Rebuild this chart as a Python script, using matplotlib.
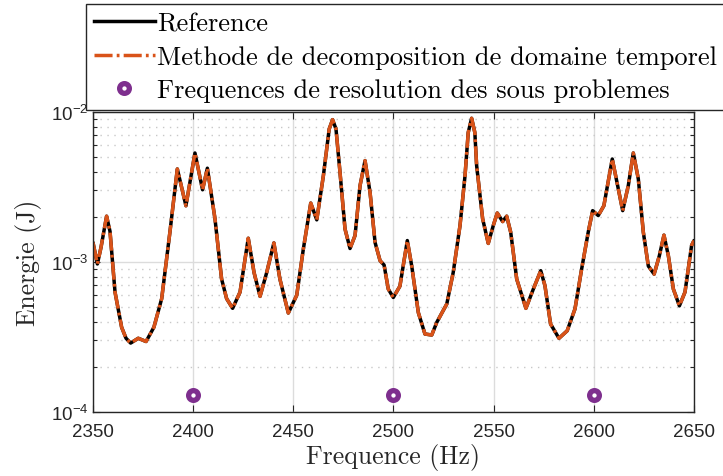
import matplotlib
matplotlib.use("Agg")
import matplotlib.pyplot as plt
from matplotlib.ticker import LogLocator, FixedLocator, NullFormatter
from matplotlib.lines import Line2D

# Frequency sweep (Hz) and energy (J)
frequence = [
    2350.0, 2352.2, 2354.0, 2356.8, 2358.5, 2361.0, 2364.3, 2366.5, 2368.8, 2372.6,
    2376.5, 2380.4, 2384.3, 2388.4, 2392.1, 2396.4, 2400.9, 2404.7, 2407.1, 2410.9,
    2414.2, 2416.7, 2419.7, 2423.4, 2427.5, 2430.4, 2433.4, 2436.7, 2440.3, 2443.3,
    2447.5, 2451.7, 2455.0, 2458.7, 2461.7, 2465.0, 2467.9, 2469.6, 2471.3, 2473.3,
    2475.8, 2478.3, 2480.8, 2483.3, 2485.8, 2488.3, 2490.8, 2493.3, 2495.3, 2497.4,
    2499.9, 2503.2, 2506.9, 2509.1, 2512.4, 2515.7, 2519.1, 2521.6, 2526.6, 2529.8,
    2533.2, 2535.7, 2537.3, 2539.0, 2540.6, 2541.5, 2544.5, 2547.3, 2549.8, 2551.8,
    2554.5, 2556.5, 2558.5, 2561.5, 2566.1, 2569.8, 2573.5, 2575.6, 2578.4, 2582.6,
    2586.7, 2590.6, 2593.9, 2597.2, 2599.4, 2602.2, 2605.0, 2609.2, 2614.4, 2617.2,
    2619.7, 2622.2, 2624.7, 2627.2, 2630.1, 2632.7, 2635.0, 2637.2, 2639.7, 2642.7,
    2645.5, 2648.8, 2650.0,
]
energie_reference = [
    1.35e-3, 0.97e-3, 1.25e-3, 2.02e-3, 1.60e-3, 6.3e-4, 3.67e-4, 3.10e-4, 2.88e-4, 3.10e-4,
    2.95e-4, 3.67e-4, 5.7e-4, 1.58e-3, 4.17e-3, 2.37e-3, 5.33e-3, 3.03e-3, 4.22e-3, 1.94e-3,
    7.7e-4, 5.7e-4, 4.91e-4, 6.3e-4, 1.44e-3, 8.5e-4, 5.9e-4, 8.5e-4, 1.34e-3, 7.7e-4,
    4.57e-4, 6.0e-4, 1.22e-3, 2.47e-3, 1.91e-3, 3.76e-3, 7.7e-3, 8.89e-3, 7.7e-3, 3.96e-3,
    1.66e-3, 1.23e-3, 1.50e-3, 3.23e-3, 4.74e-3, 2.91e-3, 1.35e-3, 1.02e-3, 9.55e-4, 6.6e-4,
    5.8e-4, 6.9e-4, 1.39e-3, 9.4e-4, 4.6e-4, 3.31e-4, 3.26e-4, 3.96e-4, 5.25e-4, 8.5e-4,
    1.75e-3, 3.76e-3, 7.3e-3, 9.08e-3, 7.3e-3, 4.39e-3, 1.94e-3, 1.33e-3, 1.75e-3, 2.12e-3,
    1.86e-3, 2.02e-3, 1.58e-3, 7.7e-4, 4.91e-4, 6.6e-4, 8.75e-4, 6.95e-4, 3.86e-4, 3.10e-4,
    3.48e-4, 4.87e-4, 8.96e-4, 1.58e-3, 2.20e-3, 2.04e-3, 2.37e-3, 4.86e-3, 2.20e-3, 3.23e-3,
    5.33e-3, 3.58e-3, 1.58e-3, 9.4e-4, 8.3e-4, 1.10e-3, 1.51e-3, 1.10e-3, 6.6e-4, 5.1e-4,
    6.3e-4, 1.29e-3, 1.39e-3,
]
# Time-domain decomposition result (coincides with the reference)
energie_decomposition = list(energie_reference)

# Sub-problem resolution frequencies
freq_sous_problemes = [2400, 2500, 2600]
energie_marqueurs = [1.3e-4, 1.3e-4, 1.3e-4]

xticks = [2350, 2400, 2450, 2500, 2550, 2600, 2650]

labels_legende = [
    "Reference",
    "Methode de decomposition de domaine temporel",
    "Frequences de resolution des sous problemes",
]

plt.rcParams["font.family"] = ["Liberation Sans", "DejaVu Sans"]
plt.rcParams["axes.unicode_minus"] = False
plt.rcParams["lines.scale_dashes"] = False

SERIF = "cmr10"
DARK = "#262626"
ORANGE = "#D95319"
PURPLE = "#7E2F8E"
LW = 2.5
DASHDOT = (0, (13, 3, 2, 3))

fig = plt.figure(figsize=(7.23, 4.77), dpi=100)
ax = fig.add_axes([0.1286, 0.1342, 0.9599 - 0.1286, 0.7631 - 0.1342])

ax.plot(frequence, energie_reference, color="black", lw=LW,
        solid_joinstyle="round", solid_capstyle="round")
ax.plot(frequence, energie_decomposition, color=ORANGE, lw=LW, linestyle=DASHDOT,
        dash_joinstyle="round")
ax.plot(freq_sous_problemes, energie_marqueurs, linestyle="none", marker="o",
        markersize=7, markeredgewidth=3.8, markerfacecolor="white",
        markeredgecolor=PURPLE)

ax.set_yscale("log")
ax.set_xlim(2350, 2650)
ax.set_ylim(1e-4, 1e-2)
ax.xaxis.set_major_locator(FixedLocator(xticks))
ax.yaxis.set_major_locator(LogLocator(base=10, numticks=10))
ax.yaxis.set_minor_locator(LogLocator(base=10, subs=range(2, 10), numticks=20))
ax.yaxis.set_minor_formatter(NullFormatter())

ax.grid(True, which="major", axis="both", color="#dcdcdc", lw=1.0, ls="-")
ax.grid(True, which="minor", axis="y", color="#c8c8c8", lw=1.0, ls=(0, (1, 4)))
ax.set_axisbelow(True)

ax.tick_params(which="both", direction="in", top=True, right=True, colors=DARK,
               labelsize=13.5, width=0.8)
ax.tick_params(which="major", length=5)
ax.tick_params(which="minor", length=3)
ax.tick_params(axis="x", pad=8)
for s in ax.spines.values():
    s.set_color(DARK)
    s.set_linewidth(1.0)

ax.set_xlabel("Frequence (Hz)", fontfamily=SERIF, fontsize=18.5, color=DARK, labelpad=2)
ax.set_ylabel("Energie (J)", fontfamily=SERIF, fontsize=18.5, color=DARK, labelpad=6)

handles = [
    Line2D([], [], color="black", lw=LW),
    Line2D([], [], color=ORANGE, lw=LW, linestyle=DASHDOT),
    Line2D([], [], linestyle="none", marker="o", markersize=7, markeredgewidth=3.8,
           markerfacecolor="white", markeredgecolor=PURPLE),
]
leg = fig.legend(handles, labels_legende, loc="upper left",
                 bbox_to_anchor=(86 / 723, 1 - 5 / 477),
                 prop={"family": SERIF, "size": 19}, frameon=True, fancybox=False,
                 edgecolor=DARK, framealpha=1, handlelength=2.3, handletextpad=0.1,
                 labelspacing=0.36, borderpad=0.3, borderaxespad=0)
leg.get_frame().set_linewidth(1.0)

fig.savefig("out.png", dpi=100)
